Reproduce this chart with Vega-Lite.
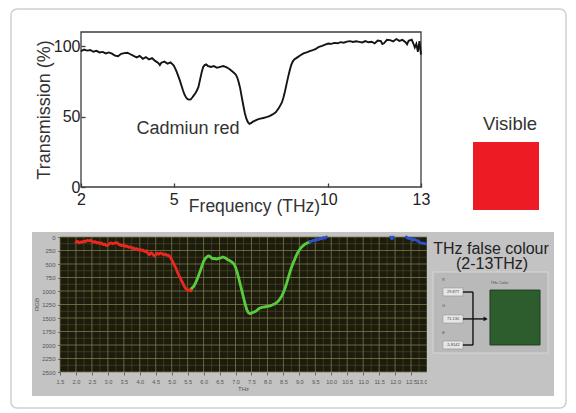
{
  "$schema": "https://vega.github.io/schema/vega-lite/v6.json",
  "padding": {"left": 10, "top": 8, "right": 9, "bottom": 4},
  "background": "white",
  "bounds": "flush",
  "columns": 2,
  "align": "each",
  "spacing": {"row": 22, "column": 0},
  "config": {
    "view": {"stroke": null},
    "font": "Liberation Sans",
    "axis": {"labelFont": "Liberation Sans", "titleFont": "Liberation Sans", "labelOverlap": false},
    "text": {"font": "Liberation Sans"}
  },
  "datasets": {
    "trans": [
      {"f": 2.0, "t": 96.5}, {"f": 2.1, "t": 97.5}, {"f": 2.2, "t": 96.8}, {"f": 2.3, "t": 97.2}, {"f": 2.4, "t": 96.0},
      {"f": 2.5, "t": 96.6}, {"f": 2.6, "t": 95.5}, {"f": 2.7, "t": 95.9}, {"f": 2.8, "t": 94.8}, {"f": 2.9, "t": 95.5},
      {"f": 3.0, "t": 94.6}, {"f": 3.1, "t": 93.2}, {"f": 3.2, "t": 92.8}, {"f": 3.3, "t": 94.5}, {"f": 3.4, "t": 95.0},
      {"f": 3.5, "t": 95.3}, {"f": 3.6, "t": 94.2}, {"f": 3.7, "t": 93.0}, {"f": 3.8, "t": 92.0}, {"f": 3.9, "t": 93.1},
      {"f": 4.0, "t": 91.0}, {"f": 4.1, "t": 92.2}, {"f": 4.2, "t": 90.5}, {"f": 4.3, "t": 91.4}, {"f": 4.4, "t": 89.5},
      {"f": 4.5, "t": 88.0}, {"f": 4.55, "t": 86.5}, {"f": 4.6, "t": 88.2}, {"f": 4.7, "t": 89.0}, {"f": 4.8, "t": 87.5},
      {"f": 4.9, "t": 88.5}, {"f": 5.0, "t": 86.2}, {"f": 5.05, "t": 84.0}, {"f": 5.1, "t": 81.5}, {"f": 5.15, "t": 78.5},
      {"f": 5.2, "t": 75.5}, {"f": 5.25, "t": 72.0}, {"f": 5.3, "t": 68.5}, {"f": 5.35, "t": 65.5}, {"f": 5.4, "t": 63.5},
      {"f": 5.45, "t": 62.3}, {"f": 5.5, "t": 62.0}, {"f": 5.55, "t": 62.2}, {"f": 5.6, "t": 63.5}, {"f": 5.65, "t": 65.0},
      {"f": 5.7, "t": 66.5}, {"f": 5.75, "t": 68.5}, {"f": 5.8, "t": 71.0}, {"f": 5.85, "t": 76.0}, {"f": 5.9, "t": 81.0},
      {"f": 5.95, "t": 85.0}, {"f": 6.0, "t": 86.5}, {"f": 6.05, "t": 87.0}, {"f": 6.1, "t": 86.0}, {"f": 6.2, "t": 85.2},
      {"f": 6.3, "t": 85.8}, {"f": 6.4, "t": 84.6}, {"f": 6.5, "t": 85.3}, {"f": 6.6, "t": 85.8}, {"f": 6.7, "t": 85.0},
      {"f": 6.8, "t": 83.8}, {"f": 6.9, "t": 82.0}, {"f": 7.0, "t": 80.0}, {"f": 7.05, "t": 78.0}, {"f": 7.1, "t": 74.5},
      {"f": 7.15, "t": 70.0}, {"f": 7.2, "t": 64.0}, {"f": 7.25, "t": 58.0}, {"f": 7.3, "t": 52.5}, {"f": 7.35, "t": 48.5},
      {"f": 7.4, "t": 46.0}, {"f": 7.45, "t": 44.8}, {"f": 7.5, "t": 45.3}, {"f": 7.55, "t": 46.2}, {"f": 7.6, "t": 46.8},
      {"f": 7.7, "t": 47.8}, {"f": 7.8, "t": 48.5}, {"f": 7.9, "t": 49.0}, {"f": 8.0, "t": 49.6}, {"f": 8.1, "t": 50.3},
      {"f": 8.2, "t": 51.5}, {"f": 8.3, "t": 53.0}, {"f": 8.4, "t": 56.0}, {"f": 8.5, "t": 60.0}, {"f": 8.55, "t": 63.5},
      {"f": 8.6, "t": 68.0}, {"f": 8.65, "t": 73.0}, {"f": 8.7, "t": 78.0}, {"f": 8.75, "t": 82.5}, {"f": 8.8, "t": 86.5},
      {"f": 8.85, "t": 89.0}, {"f": 8.9, "t": 90.5}, {"f": 9.0, "t": 92.0}, {"f": 9.1, "t": 93.5}, {"f": 9.2, "t": 94.8},
      {"f": 9.3, "t": 95.6}, {"f": 9.4, "t": 96.5}, {"f": 9.5, "t": 97.2}, {"f": 9.6, "t": 98.0}, {"f": 9.7, "t": 99.5},
      {"f": 9.8, "t": 100.2}, {"f": 9.9, "t": 101.0}, {"f": 10.0, "t": 101.8}, {"f": 10.1, "t": 101.6}, {"f": 10.2, "t": 102.3},
      {"f": 10.3, "t": 102.0}, {"f": 10.4, "t": 102.8}, {"f": 10.5, "t": 102.4}, {"f": 10.6, "t": 103.2}, {"f": 10.7, "t": 103.5},
      {"f": 10.8, "t": 102.9}, {"f": 10.9, "t": 103.4}, {"f": 11.0, "t": 103.0}, {"f": 11.1, "t": 102.6}, {"f": 11.2, "t": 103.6},
      {"f": 11.3, "t": 102.7}, {"f": 11.4, "t": 103.1}, {"f": 11.5, "t": 101.9}, {"f": 11.6, "t": 104.0}, {"f": 11.7, "t": 103.6},
      {"f": 11.75, "t": 101.5}, {"f": 11.8, "t": 102.0}, {"f": 11.9, "t": 104.5}, {"f": 12.0, "t": 104.2}, {"f": 12.1, "t": 103.3},
      {"f": 12.2, "t": 105.0}, {"f": 12.3, "t": 103.7}, {"f": 12.4, "t": 104.4}, {"f": 12.5, "t": 102.8}, {"f": 12.55, "t": 101.2},
      {"f": 12.6, "t": 103.8}, {"f": 12.7, "t": 104.6}, {"f": 12.75, "t": 102.0}, {"f": 12.8, "t": 99.0}, {"f": 12.85, "t": 101.5},
      {"f": 12.9, "t": 96.0}, {"f": 12.95, "t": 103.5}, {"f": 13.0, "t": 94.0}
    ],
    "rgb": [
      {"f": 2.0, "v": 95, "band": "R", "seg": "r"}, {"f": 2.05, "v": 80, "band": "R", "seg": "r"}, {"f": 2.1, "v": 110, "band": "R", "seg": "r"},
      {"f": 2.15, "v": 90, "band": "R", "seg": "r"}, {"f": 2.2, "v": 100, "band": "R", "seg": "r"}, {"f": 2.25, "v": 75, "band": "R", "seg": "r"},
      {"f": 2.3, "v": 85, "band": "R", "seg": "r"}, {"f": 2.35, "v": 60, "band": "R", "seg": "r"}, {"f": 2.4, "v": 70, "band": "R", "seg": "r"},
      {"f": 2.45, "v": 60, "band": "R", "seg": "r"}, {"f": 2.5, "v": 80, "band": "R", "seg": "r"}, {"f": 2.55, "v": 95, "band": "R", "seg": "r"},
      {"f": 2.6, "v": 85, "band": "R", "seg": "r"}, {"f": 2.65, "v": 110, "band": "R", "seg": "r"}, {"f": 2.7, "v": 100, "band": "R", "seg": "r"},
      {"f": 2.75, "v": 120, "band": "R", "seg": "r"}, {"f": 2.8, "v": 110, "band": "R", "seg": "r"}, {"f": 2.85, "v": 140, "band": "R", "seg": "r"},
      {"f": 2.9, "v": 130, "band": "R", "seg": "r"}, {"f": 2.95, "v": 160, "band": "R", "seg": "r"}, {"f": 3.0, "v": 150, "band": "R", "seg": "r"},
      {"f": 3.05, "v": 120, "band": "R", "seg": "r"}, {"f": 3.1, "v": 110, "band": "R", "seg": "r"}, {"f": 3.15, "v": 125, "band": "R", "seg": "r"},
      {"f": 3.2, "v": 115, "band": "R", "seg": "r"}, {"f": 3.25, "v": 105, "band": "R", "seg": "r"}, {"f": 3.3, "v": 110, "band": "R", "seg": "r"},
      {"f": 3.35, "v": 140, "band": "R", "seg": "r"}, {"f": 3.4, "v": 150, "band": "R", "seg": "r"}, {"f": 3.45, "v": 160, "band": "R", "seg": "r"},
      {"f": 3.5, "v": 145, "band": "R", "seg": "r"}, {"f": 3.55, "v": 175, "band": "R", "seg": "r"}, {"f": 3.6, "v": 170, "band": "R", "seg": "r"},
      {"f": 3.65, "v": 190, "band": "R", "seg": "r"}, {"f": 3.7, "v": 180, "band": "R", "seg": "r"}, {"f": 3.75, "v": 210, "band": "R", "seg": "r"},
      {"f": 3.8, "v": 200, "band": "R", "seg": "r"}, {"f": 3.85, "v": 230, "band": "R", "seg": "r"}, {"f": 3.9, "v": 215, "band": "R", "seg": "r"},
      {"f": 3.95, "v": 240, "band": "R", "seg": "r"}, {"f": 4.0, "v": 225, "band": "R", "seg": "r"}, {"f": 4.05, "v": 250, "band": "R", "seg": "r"},
      {"f": 4.1, "v": 240, "band": "R", "seg": "r"}, {"f": 4.15, "v": 270, "band": "R", "seg": "r"}, {"f": 4.2, "v": 255, "band": "R", "seg": "r"},
      {"f": 4.25, "v": 300, "band": "R", "seg": "r"}, {"f": 4.3, "v": 330, "band": "R", "seg": "r"}, {"f": 4.35, "v": 290, "band": "R", "seg": "r"},
      {"f": 4.4, "v": 310, "band": "R", "seg": "r"}, {"f": 4.45, "v": 350, "band": "R", "seg": "r"}, {"f": 4.5, "v": 330, "band": "R", "seg": "r"},
      {"f": 4.55, "v": 300, "band": "R", "seg": "r"}, {"f": 4.6, "v": 320, "band": "R", "seg": "r"}, {"f": 4.65, "v": 295, "band": "R", "seg": "r"},
      {"f": 4.7, "v": 310, "band": "R", "seg": "r"}, {"f": 4.75, "v": 330, "band": "R", "seg": "r"}, {"f": 4.8, "v": 315, "band": "R", "seg": "r"},
      {"f": 4.85, "v": 340, "band": "R", "seg": "r"}, {"f": 4.9, "v": 335, "band": "R", "seg": "r"}, {"f": 4.95, "v": 370, "band": "R", "seg": "r"},
      {"f": 5.0, "v": 420, "band": "R", "seg": "r"}, {"f": 5.05, "v": 480, "band": "R", "seg": "r"}, {"f": 5.1, "v": 540, "band": "R", "seg": "r"},
      {"f": 5.15, "v": 600, "band": "R", "seg": "r"}, {"f": 5.2, "v": 680, "band": "R", "seg": "r"}, {"f": 5.25, "v": 740, "band": "R", "seg": "r"},
      {"f": 5.3, "v": 800, "band": "R", "seg": "r"}, {"f": 5.35, "v": 860, "band": "R", "seg": "r"}, {"f": 5.4, "v": 920, "band": "R", "seg": "r"},
      {"f": 5.45, "v": 960, "band": "R", "seg": "r"}, {"f": 5.5, "v": 990, "band": "R", "seg": "r"}, {"f": 5.55, "v": 975, "band": "R", "seg": "r"},
      {"f": 5.6, "v": 1000, "band": "R", "seg": "r"}, {"f": 5.63, "v": 950, "band": "R", "seg": "r"},
      {"f": 5.63, "v": 950, "band": "G", "seg": "g"}, {"f": 5.68, "v": 920, "band": "G", "seg": "g"}, {"f": 5.74, "v": 860, "band": "G", "seg": "g"},
      {"f": 5.8, "v": 780, "band": "G", "seg": "g"}, {"f": 5.85, "v": 700, "band": "G", "seg": "g"}, {"f": 5.9, "v": 620, "band": "G", "seg": "g"},
      {"f": 5.95, "v": 530, "band": "G", "seg": "g"}, {"f": 6.0, "v": 450, "band": "G", "seg": "g"}, {"f": 6.05, "v": 400, "band": "G", "seg": "g"},
      {"f": 6.1, "v": 370, "band": "G", "seg": "g"}, {"f": 6.15, "v": 350, "band": "G", "seg": "g"}, {"f": 6.2, "v": 360, "band": "G", "seg": "g"},
      {"f": 6.25, "v": 390, "band": "G", "seg": "g"}, {"f": 6.3, "v": 405, "band": "G", "seg": "g"}, {"f": 6.35, "v": 395, "band": "G", "seg": "g"},
      {"f": 6.4, "v": 410, "band": "G", "seg": "g"}, {"f": 6.45, "v": 400, "band": "G", "seg": "g"}, {"f": 6.5, "v": 390, "band": "G", "seg": "g"},
      {"f": 6.55, "v": 385, "band": "G", "seg": "g"}, {"f": 6.6, "v": 370, "band": "G", "seg": "g"}, {"f": 6.65, "v": 380, "band": "G", "seg": "g"},
      {"f": 6.7, "v": 395, "band": "G", "seg": "g"}, {"f": 6.75, "v": 420, "band": "G", "seg": "g"}, {"f": 6.8, "v": 430, "band": "G", "seg": "g"},
      {"f": 6.85, "v": 450, "band": "G", "seg": "g"}, {"f": 6.9, "v": 470, "band": "G", "seg": "g"}, {"f": 6.95, "v": 500, "band": "G", "seg": "g"},
      {"f": 7.0, "v": 560, "band": "G", "seg": "g"}, {"f": 7.05, "v": 650, "band": "G", "seg": "g"}, {"f": 7.1, "v": 760, "band": "G", "seg": "g"},
      {"f": 7.15, "v": 880, "band": "G", "seg": "g"}, {"f": 7.2, "v": 1000, "band": "G", "seg": "g"}, {"f": 7.25, "v": 1120, "band": "G", "seg": "g"},
      {"f": 7.3, "v": 1240, "band": "G", "seg": "g"}, {"f": 7.35, "v": 1340, "band": "G", "seg": "g"}, {"f": 7.4, "v": 1400, "band": "G", "seg": "g"},
      {"f": 7.45, "v": 1420, "band": "G", "seg": "g"}, {"f": 7.5, "v": 1410, "band": "G", "seg": "g"}, {"f": 7.55, "v": 1395, "band": "G", "seg": "g"},
      {"f": 7.6, "v": 1385, "band": "G", "seg": "g"}, {"f": 7.65, "v": 1370, "band": "G", "seg": "g"}, {"f": 7.7, "v": 1340, "band": "G", "seg": "g"},
      {"f": 7.75, "v": 1320, "band": "G", "seg": "g"}, {"f": 7.8, "v": 1310, "band": "G", "seg": "g"}, {"f": 7.85, "v": 1300, "band": "G", "seg": "g"},
      {"f": 7.9, "v": 1300, "band": "G", "seg": "g"}, {"f": 7.95, "v": 1290, "band": "G", "seg": "g"}, {"f": 8.0, "v": 1285, "band": "G", "seg": "g"},
      {"f": 8.05, "v": 1280, "band": "G", "seg": "g"}, {"f": 8.1, "v": 1270, "band": "G", "seg": "g"}, {"f": 8.15, "v": 1260, "band": "G", "seg": "g"},
      {"f": 8.2, "v": 1245, "band": "G", "seg": "g"}, {"f": 8.25, "v": 1230, "band": "G", "seg": "g"}, {"f": 8.3, "v": 1210, "band": "G", "seg": "g"},
      {"f": 8.35, "v": 1180, "band": "G", "seg": "g"}, {"f": 8.4, "v": 1140, "band": "G", "seg": "g"}, {"f": 8.45, "v": 1090, "band": "G", "seg": "g"},
      {"f": 8.5, "v": 1030, "band": "G", "seg": "g"}, {"f": 8.55, "v": 950, "band": "G", "seg": "g"}, {"f": 8.6, "v": 860, "band": "G", "seg": "g"},
      {"f": 8.65, "v": 760, "band": "G", "seg": "g"}, {"f": 8.7, "v": 660, "band": "G", "seg": "g"}, {"f": 8.75, "v": 570, "band": "G", "seg": "g"},
      {"f": 8.8, "v": 490, "band": "G", "seg": "g"}, {"f": 8.85, "v": 420, "band": "G", "seg": "g"}, {"f": 8.9, "v": 350, "band": "G", "seg": "g"},
      {"f": 8.95, "v": 290, "band": "G", "seg": "g"}, {"f": 9.0, "v": 240, "band": "G", "seg": "g"}, {"f": 9.05, "v": 200, "band": "G", "seg": "g"},
      {"f": 9.1, "v": 170, "band": "G", "seg": "g"}, {"f": 9.15, "v": 145, "band": "G", "seg": "g"}, {"f": 9.2, "v": 125, "band": "G", "seg": "g"},
      {"f": 9.25, "v": 110, "band": "G", "seg": "g"}, {"f": 9.3, "v": 95, "band": "G", "seg": "g"}, {"f": 9.33, "v": 90, "band": "G", "seg": "g"},
      {"f": 9.33, "v": 90, "band": "B", "seg": "b1"}, {"f": 9.4, "v": 75, "band": "B", "seg": "b1"}, {"f": 9.45, "v": 60, "band": "B", "seg": "b1"},
      {"f": 9.5, "v": 70, "band": "B", "seg": "b1"}, {"f": 9.55, "v": 40, "band": "B", "seg": "b1"}, {"f": 9.6, "v": 50, "band": "B", "seg": "b1"},
      {"f": 9.65, "v": 25, "band": "B", "seg": "b1"}, {"f": 9.7, "v": 35, "band": "B", "seg": "b1"}, {"f": 9.75, "v": 10, "band": "B", "seg": "b1"},
      {"f": 9.8, "v": 20, "band": "B", "seg": "b1"}, {"f": 9.85, "v": 0, "band": "B", "seg": "b1"},
      {"f": 11.86, "v": 0, "band": "B", "seg": "b2"}, {"f": 11.9, "v": 35, "band": "B", "seg": "b2"}, {"f": 11.94, "v": 0, "band": "B", "seg": "b2"},
      {"f": 12.35, "v": 0, "band": "B", "seg": "b3"}, {"f": 12.42, "v": 30, "band": "B", "seg": "b3"}, {"f": 12.5, "v": 20, "band": "B", "seg": "b3"},
      {"f": 12.55, "v": 60, "band": "B", "seg": "b3"}, {"f": 12.6, "v": 40, "band": "B", "seg": "b3"}, {"f": 12.7, "v": 70, "band": "B", "seg": "b3"},
      {"f": 12.8, "v": 110, "band": "B", "seg": "b3"}, {"f": 12.9, "v": 120, "band": "B", "seg": "b3"}, {"f": 13.0, "v": 130, "band": "B", "seg": "b3"}
    ],
    "gxMajor": [{"g": 1.5}, {"g": 2.0}, {"g": 2.5}, {"g": 3.0}, {"g": 3.5}, {"g": 4.0}, {"g": 4.5}, {"g": 5.0}, {"g": 5.5}, {"g": 6.0}, {"g": 6.5}, {"g": 7.0}, {"g": 7.5}, {"g": 8.0}, {"g": 8.5}, {"g": 9.0}, {"g": 9.5}, {"g": 10.0}, {"g": 10.5}, {"g": 11.0}, {"g": 11.5}, {"g": 12.0}, {"g": 12.5}, {"g": 13.0}],
    "gxMinor": [{"g": 1.75}, {"g": 2.25}, {"g": 2.75}, {"g": 3.25}, {"g": 3.75}, {"g": 4.25}, {"g": 4.75}, {"g": 5.25}, {"g": 5.75}, {"g": 6.25}, {"g": 6.75}, {"g": 7.25}, {"g": 7.75}, {"g": 8.25}, {"g": 8.75}, {"g": 9.25}, {"g": 9.75}, {"g": 10.25}, {"g": 10.75}, {"g": 11.25}, {"g": 11.75}, {"g": 12.25}, {"g": 12.75}],
    "gyMajor": [{"g": 0}, {"g": 250}, {"g": 500}, {"g": 750}, {"g": 1000}, {"g": 1250}, {"g": 1500}, {"g": 1750}, {"g": 2000}, {"g": 2250}, {"g": 2500}],
    "gyMinor": [{"g": 125}, {"g": 375}, {"g": 625}, {"g": 875}, {"g": 1125}, {"g": 1375}, {"g": 1625}, {"g": 1875}, {"g": 2125}, {"g": 2375}]
  },
  "concat": [
    {
      "width": 389, "height": 155,
      "layer": [
        {
          "data": {"values": [{}]},
          "mark": {"type": "rect", "filled": false, "stroke": "#cfcfcf", "strokeWidth": 1.5, "cornerRadius": 6},
          "encoding": {
            "x": {"datum": -0.2647, "type": "quantitative", "scale": {"domain": [0.4147, 13], "nice": false, "zero": false}},
            "x2": {"datum": 17.6912},
            "y": {"datum": 126.32, "type": "quantitative", "scale": {"domain": [0, 110], "nice": false, "zero": false}},
            "y2": {"datum": -156.84}
          }
        },
        {
          "data": {"values": [{}]},
          "mark": {"type": "rect", "filled": false, "stroke": "#3c3c3c", "strokeWidth": 1.3},
          "encoding": {
            "x": {"datum": 2, "type": "quantitative", "scale": {"domain": [0.4147, 13], "nice": false, "zero": false}},
            "x2": {"datum": 13},
            "y": {"datum": 0, "type": "quantitative", "scale": {"domain": [0, 110], "nice": false, "zero": false}},
            "y2": {"datum": 110}
          }
        },
        {
          "data": {"name": "trans"},
          "mark": {"type": "line", "color": "#141414", "strokeWidth": 1.9},
          "encoding": {
            "x": {"field": "f", "type": "quantitative", "scale": {"domain": [0.4147, 13], "nice": false, "zero": false},
              "axis": {"values": [2, 5, 10, 13], "tickCount": 10, "title": "Frequency (THz)", "titleX": 222, "grid": false, "domain": false, "tickSize": -4, "tickColor": "#3c3c3c", "tickWidth": 1.3, "labelPadding": 8, "labelFlush": false, "labelFontSize": 16, "labelColor": "#222", "titleFontSize": 17.5, "titleFontWeight": "normal", "titleColor": "#333", "titlePadding": -10}},
            "y": {"field": "t", "type": "quantitative", "scale": {"domain": [0, 110], "nice": false, "zero": false},
              "axis": {"values": [0, 50, 100], "tickCount": 10, "title": "Transmission (%)", "offset": -49, "grid": false, "domain": false, "tickSize": -4, "tickColor": "#3c3c3c", "tickWidth": 1.3, "labelPadding": 5, "labelFlush": false, "labelFontSize": 16, "labelColor": "#222", "titleFontSize": 18, "titleFontWeight": "normal", "titleColor": "#333", "titlePadding": 0}}
          }
        },
        {
          "data": {"values": [{}]},
          "mark": {"type": "text", "text": "Cadmiun red", "fontSize": 18, "color": "#333"},
          "encoding": {
            "x": {"datum": 5.46, "type": "quantitative"},
            "y": {"datum": 41.2, "type": "quantitative"}
          }
        }
      ]
    },
    {
      "width": 112, "height": 178,
      "data": {"values": [{}]},
      "layer": [
        {
          "mark": {"type": "rect", "color": "#ED1C24"},
          "encoding": {
            "x": {"datum": 0, "type": "quantitative", "scale": {"domain": [-0.697, 1], "nice": false, "zero": false}, "axis": null},
            "x2": {"datum": 1},
            "y": {"datum": 0, "type": "quantitative", "scale": {"domain": [0, 2.6176], "nice": false, "zero": false}, "axis": null},
            "y2": {"datum": 1}
          }
        },
        {
          "mark": {"type": "text", "text": "Visible", "fontSize": 18.5, "color": "#333"},
          "encoding": {
            "x": {"datum": 0.5606, "type": "quantitative", "scale": {"domain": [-0.697, 1], "nice": false, "zero": false}, "axis": null},
            "y": {"datum": 1.2647, "type": "quantitative", "scale": {"domain": [0, 2.6176], "nice": false, "zero": false}, "axis": null}
          }
        }
      ]
    },
    {
      "width": 395, "height": 164,
      "view": {"fill": "#c3c3c3", "stroke": null},
      "layer": [
        {
          "data": {"values": [{}]},
          "mark": {"type": "rect", "color": "#1b1b0e"},
          "encoding": {
            "x": {"datum": 1.5, "type": "quantitative", "scale": {"domain": [0.6226, 13.0], "nice": false, "zero": false},
              "axis": {"values": [1.5, 2, 2.5, 3, 3.5, 4, 4.5, 5, 5.5, 6, 6.5, 7, 7.5, 8, 8.5, 9, 9.5, 10, 10.5, 11, 11.5, 12, 12.5, 13], "tickCount": 40, "format": ".1f", "title": "THz", "offset": -24, "grid": false, "domain": false, "tickSize": 3, "tickColor": "#666", "labelPadding": 4, "labelFlush": true, "labelOverlap": false, "labelFontSize": 5.6, "labelColor": "#555", "titleFontSize": 6, "titleFontWeight": "normal", "titleColor": "#555", "titlePadding": 1, "titleX": 211}},
            "x2": {"datum": 13.0},
            "y": {"datum": 0, "type": "quantitative", "scale": {"domain": [-92.6, 2944.4], "nice": false, "zero": false, "reverse": true},
              "axis": {"values": [0, 250, 500, 750, 1000, 1250, 1500, 1750, 2000, 2250, 2500], "tickCount": 40, "format": "d", "title": "RGB", "offset": -28, "grid": false, "domain": false, "tickSize": 2.5, "tickColor": "#666", "labelPadding": 2.5, "labelFlush": false, "labelOverlap": false, "labelFontSize": 6, "labelColor": "#555", "titleFontSize": 6, "titleFontWeight": "normal", "titleColor": "#555", "titlePadding": 2, "titleY": 72}},
            "y2": {"datum": 2500}
          }
        },
        {
          "data": {"name": "gxMinor"},
          "mark": {"type": "rule", "color": "#4a4826", "strokeWidth": 0.7},
          "encoding": {
            "x": {"field": "g", "type": "quantitative", "scale": {"domain": [0.6226, 13.0], "nice": false, "zero": false}},
            "y": {"datum": 0, "type": "quantitative", "scale": {"domain": [-92.6, 2944.4], "nice": false, "zero": false, "reverse": true}},
            "y2": {"datum": 2500}
          }
        },
        {
          "data": {"name": "gyMinor"},
          "mark": {"type": "rule", "color": "#4a4826", "strokeWidth": 0.7},
          "encoding": {
            "y": {"field": "g", "type": "quantitative", "scale": {"domain": [-92.6, 2944.4], "nice": false, "zero": false, "reverse": true}},
            "x": {"datum": 1.5, "type": "quantitative", "scale": {"domain": [0.6226, 13.0], "nice": false, "zero": false}},
            "x2": {"datum": 13.0}
          }
        },
        {
          "data": {"name": "gxMajor"},
          "mark": {"type": "rule", "color": "#7d7842", "strokeWidth": 0.8},
          "encoding": {
            "x": {"field": "g", "type": "quantitative", "scale": {"domain": [0.6226, 13.0], "nice": false, "zero": false}},
            "y": {"datum": 0, "type": "quantitative", "scale": {"domain": [-92.6, 2944.4], "nice": false, "zero": false, "reverse": true}},
            "y2": {"datum": 2500}
          }
        },
        {
          "data": {"name": "gyMajor"},
          "mark": {"type": "rule", "color": "#7d7842", "strokeWidth": 0.8},
          "encoding": {
            "y": {"field": "g", "type": "quantitative", "scale": {"domain": [-92.6, 2944.4], "nice": false, "zero": false, "reverse": true}},
            "x": {"datum": 1.5, "type": "quantitative", "scale": {"domain": [0.6226, 13.0], "nice": false, "zero": false}},
            "x2": {"datum": 13.0}
          }
        },
        {
          "data": {"name": "rgb"},
          "mark": {"type": "line", "strokeWidth": 2.8, "strokeJoin": "round", "strokeCap": "round"},
          "encoding": {
            "x": {"field": "f", "type": "quantitative", "scale": {"domain": [0.6226, 13.0], "nice": false, "zero": false},
              "axis": {"values": [1.5, 2, 2.5, 3, 3.5, 4, 4.5, 5, 5.5, 6, 6.5, 7, 7.5, 8, 8.5, 9, 9.5, 10, 10.5, 11, 11.5, 12, 12.5, 13], "tickCount": 40, "format": ".1f", "title": "THz", "offset": -24, "grid": false, "domain": false, "tickSize": 3, "tickColor": "#666", "labelPadding": 4, "labelFlush": true, "labelOverlap": false, "labelFontSize": 5.6, "labelColor": "#555", "titleFontSize": 6, "titleFontWeight": "normal", "titleColor": "#555", "titlePadding": 1, "titleX": 211}},
            "y": {"field": "v", "type": "quantitative", "scale": {"domain": [-92.6, 2944.4], "nice": false, "zero": false, "reverse": true},
              "axis": {"values": [0, 250, 500, 750, 1000, 1250, 1500, 1750, 2000, 2250, 2500], "tickCount": 40, "format": "d", "title": "RGB", "offset": -28, "grid": false, "domain": false, "tickSize": 2.5, "tickColor": "#666", "labelPadding": 2.5, "labelFlush": false, "labelOverlap": false, "labelFontSize": 6, "labelColor": "#555", "titleFontSize": 6, "titleFontWeight": "normal", "titleColor": "#555", "titlePadding": 2, "titleY": 72}},
            "color": {"field": "band", "type": "nominal", "scale": {"domain": ["R", "G", "B"], "range": ["#e8281f", "#58cc3e", "#2e50c8"]}, "legend": null},
            "detail": {"field": "seg", "type": "nominal"}
          }
        }
      ]
    },
    {
      "width": 127, "height": 164,
      "view": {"fill": "#c3c3c3", "stroke": null},
      "data": {"values": [{}]},
      "layer": [
        {
          "mark": {"type": "rect", "color": "#b9b9b9", "stroke": "#d6d6d6", "strokeWidth": 1},
          "encoding": {
            "x": {"datum": 0.047, "type": "quantitative", "scale": {"domain": [0, 1], "nice": false, "zero": false}, "axis": null},
            "x2": {"datum": 0.953},
            "y": {"datum": 0.756, "type": "quantitative", "scale": {"domain": [0, 1], "nice": false, "zero": false}, "axis": null},
            "y2": {"datum": 0.262}
          }
        },
        {
          "mark": {"type": "rect", "color": "#2d5c2d", "stroke": "#223f22", "strokeWidth": 1},
          "encoding": {
            "x": {"datum": 0.496, "type": "quantitative"}, "x2": {"datum": 0.89},
            "y": {"datum": 0.646, "type": "quantitative"}, "y2": {"datum": 0.311}
          }
        },
        {
          "mark": {"type": "rect", "color": "#e6e6e6", "stroke": "#8a8a8a", "strokeWidth": 0.5},
          "encoding": {"x": {"datum": 0.126, "type": "quantitative"}, "x2": {"datum": 0.283}, "y": {"datum": 0.659, "type": "quantitative"}, "y2": {"datum": 0.61}}
        },
        {
          "mark": {"type": "rect", "color": "#e6e6e6", "stroke": "#8a8a8a", "strokeWidth": 0.5},
          "encoding": {"x": {"datum": 0.126, "type": "quantitative"}, "x2": {"datum": 0.283}, "y": {"datum": 0.494, "type": "quantitative"}, "y2": {"datum": 0.445}}
        },
        {
          "mark": {"type": "rect", "color": "#e6e6e6", "stroke": "#8a8a8a", "strokeWidth": 0.5},
          "encoding": {"x": {"datum": 0.126, "type": "quantitative"}, "x2": {"datum": 0.283}, "y": {"datum": 0.335, "type": "quantitative"}, "y2": {"datum": 0.287}}
        },
        {
          "mark": {"type": "text", "text": "29.877", "fontSize": 4, "color": "#444"},
          "encoding": {"x": {"datum": 0.205, "type": "quantitative"}, "y": {"datum": 0.634, "type": "quantitative"}}
        },
        {
          "mark": {"type": "text", "text": "71.130", "fontSize": 4, "color": "#444"},
          "encoding": {"x": {"datum": 0.205, "type": "quantitative"}, "y": {"datum": 0.47, "type": "quantitative"}}
        },
        {
          "mark": {"type": "text", "text": "-5.8142", "fontSize": 4, "color": "#444"},
          "encoding": {"x": {"datum": 0.205, "type": "quantitative"}, "y": {"datum": 0.311, "type": "quantitative"}}
        },
        {
          "mark": {"type": "text", "text": "R", "fontSize": 4, "color": "#555", "align": "left"},
          "encoding": {"x": {"datum": 0.118, "type": "quantitative"}, "y": {"datum": 0.707, "type": "quantitative"}}
        },
        {
          "mark": {"type": "text", "text": "G", "fontSize": 4, "color": "#555", "align": "left"},
          "encoding": {"x": {"datum": 0.118, "type": "quantitative"}, "y": {"datum": 0.549, "type": "quantitative"}}
        },
        {
          "mark": {"type": "text", "text": "B", "fontSize": 4, "color": "#555", "align": "left"},
          "encoding": {"x": {"datum": 0.118, "type": "quantitative"}, "y": {"datum": 0.384, "type": "quantitative"}}
        },
        {
          "mark": {"type": "text", "text": "THz Color", "fontSize": 4, "color": "#555", "align": "left"},
          "encoding": {"x": {"datum": 0.5, "type": "quantitative"}, "y": {"datum": 0.689, "type": "quantitative"}}
        },
        {
          "mark": {"type": "rule", "color": "#111", "strokeWidth": 1.4},
          "encoding": {"x": {"datum": 0.283, "type": "quantitative"}, "x2": {"datum": 0.362}, "y": {"datum": 0.634, "type": "quantitative"}}
        },
        {
          "mark": {"type": "rule", "color": "#111", "strokeWidth": 1.4},
          "encoding": {"x": {"datum": 0.283, "type": "quantitative"}, "x2": {"datum": 0.362}, "y": {"datum": 0.47, "type": "quantitative"}}
        },
        {
          "mark": {"type": "rule", "color": "#111", "strokeWidth": 1.4},
          "encoding": {"x": {"datum": 0.283, "type": "quantitative"}, "x2": {"datum": 0.362}, "y": {"datum": 0.311, "type": "quantitative"}}
        },
        {
          "mark": {"type": "rule", "color": "#111", "strokeWidth": 1.4},
          "encoding": {"x": {"datum": 0.362, "type": "quantitative"}, "y": {"datum": 0.634, "type": "quantitative"}, "y2": {"datum": 0.311}}
        },
        {
          "mark": {"type": "rule", "color": "#111", "strokeWidth": 1.4},
          "encoding": {"x": {"datum": 0.362, "type": "quantitative"}, "x2": {"datum": 0.45}, "y": {"datum": 0.47, "type": "quantitative"}}
        },
        {
          "mark": {"type": "point", "shape": "triangle-right", "size": 22, "filled": true, "color": "#111", "opacity": 1},
          "encoding": {"x": {"datum": 0.462, "type": "quantitative"}, "y": {"datum": 0.47, "type": "quantitative"}}
        },
        {
          "mark": {"type": "text", "text": "THz false colour", "fontSize": 16, "color": "#222"},
          "encoding": {"x": {"datum": 0.504, "type": "quantitative"}, "y": {"datum": 0.896, "type": "quantitative"}}
        },
        {
          "mark": {"type": "text", "text": "(2-13THz)", "fontSize": 16, "color": "#222"},
          "encoding": {"x": {"datum": 0.512, "type": "quantitative"}, "y": {"datum": 0.805, "type": "quantitative"}}
        }
      ]
    }
  ]
}
